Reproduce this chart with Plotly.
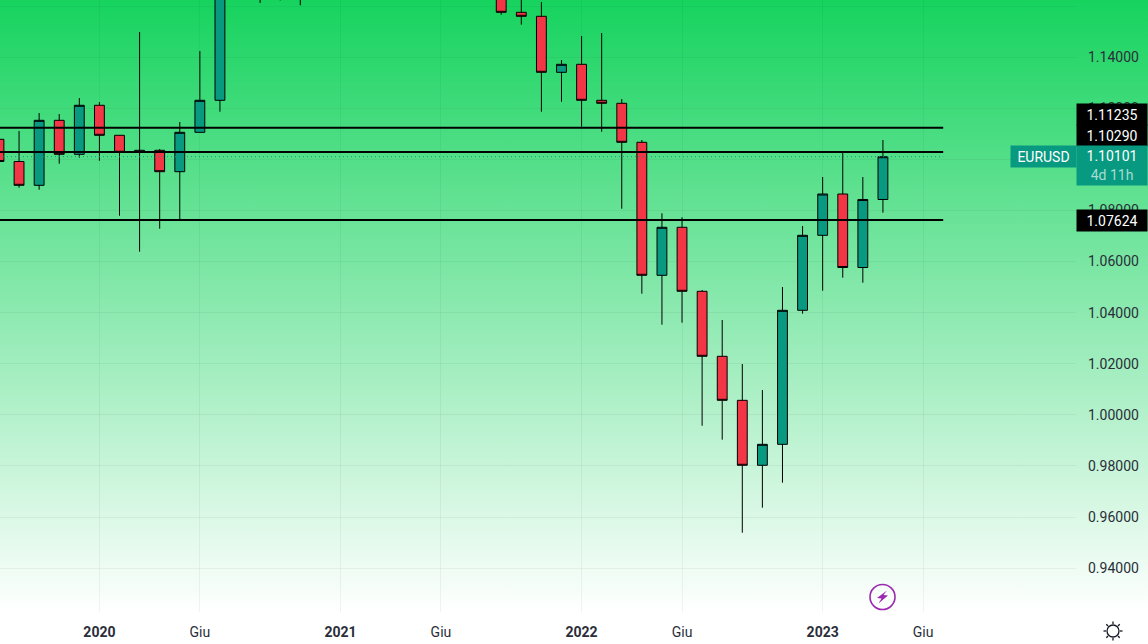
import math
import plotly.graph_objects as go

# Monthly EURUSD bars, Aug 2019 to Apr 2023
months = [f"{y}-{m:02d}" for y in range(2019, 2025) for m in range(1, 13)][7:55]

opens = [1.10783, 1.09914, 1.08982, 1.11526, 1.10196, 1.12114, 1.10939, 1.10274, 1.10352, 1.09515,
         1.11057, 1.12309, 1.17780, 1.19360, 1.17210, 1.16460, 1.19290, 1.22160, 1.21370, 1.20750,
         1.17300, 1.20200, 1.22280, 1.18580, 1.18700, 1.18080, 1.15753, 1.15597, 1.13405, 1.13718,
         1.12309, 1.12192, 1.10665, 1.05460, 1.07339, 1.04834, 1.02290, 1.00567, 0.98024, 0.98845,
         1.04090, 1.07025, 1.08642, 1.05765, 1.08427]
highs = [1.10900, 1.11108, 1.11812, 1.11773, 1.12399, 1.12243, 1.10939, 1.14982, 1.10403, 1.11460,
         1.14239, 1.19100, 1.19660, 1.20110, 1.18810, 1.19600, 1.23100, 1.23490, 1.22430, 1.21130,
         1.21500, 1.22660, 1.22540, 1.19090, 1.19080, 1.19090, 1.16920, 1.16157, 1.13887, 1.14826,
         1.14943, 1.12360, 1.10755, 1.07886, 1.07730, 1.04885, 1.03710, 1.01988, 1.00971, 1.05002,
         1.07390, 1.09307, 1.10286, 1.09307, 1.10755]
lows = [1.09800, 1.08888, 1.08810, 1.09828, 1.10063, 1.09945, 1.07793, 1.06384, 1.07284, 1.07644,
        1.11057, 1.11863, 1.17120, 1.16120, 1.16220, 1.16030, 1.19250, 1.20580, 1.19520, 1.17040,
        1.17040, 1.19860, 1.18470, 1.17520, 1.16640, 1.15660, 1.15268, 1.11863, 1.12254, 1.11276,
        1.11080, 1.08067, 1.04740, 1.03527, 1.03605, 0.99573, 0.99026, 0.95386, 0.96364, 0.97343,
        1.03957, 1.04857, 1.05366, 1.05170, 1.07910]
closes = [1.09914, 1.08982, 1.11526, 1.10196, 1.12114, 1.10939, 1.10274, 1.10352, 1.09515, 1.11057,
          1.12309, 1.17780, 1.19360, 1.17210, 1.16460, 1.19290, 1.22160, 1.21370, 1.20750, 1.17300,
          1.20200, 1.22280, 1.18580, 1.18700, 1.18080, 1.15753, 1.15597, 1.13405, 1.13718, 1.12309,
          1.12192, 1.10665, 1.05460, 1.07339, 1.04834, 1.02290, 1.00567, 0.98024, 0.98845, 1.04090,
          1.07025, 1.08642, 1.05765, 1.08427, 1.10101]
bar_months = months[:len(opens)]

# Horizontal levels and the last price
level_prices = [1.11235, 1.10290, 1.07624]
last_price = 1.10101

# Axis ticks
price_ticks = [0.94, 0.96, 0.98, 1.00, 1.02, 1.04, 1.06, 1.08, 1.10, 1.12, 1.14, 1.16]
time_ticks = ["2020-01", "2020-06", "2021-01", "2021-06", "2022-01", "2022-06", "2023-01", "2023-06", "2024-01"]
time_labels = ["<b>2020</b>", "Giu", "<b>2021</b>", "Giu", "<b>2022</b>", "Giu", "<b>2023</b>", "Giu", "<b>2024</b>"]

W, H = 1148, 644
PLOT_R, PLOT_B = 1076, 612
UP, DOWN = "#089981", "#F23645"
FONT = "Roboto"
INK = "#2a2e39"


def px(x):
    return x / W


def py(y):
    return 1 - y / H


def poly(points):
    return "M " + " L ".join(f"{px(x):.5f} {py(y):.5f}" for x, y in points) + " Z"


fig = go.Figure()

# Green wash behind the chart, fading to white at the time scale
fig.add_trace(go.Scatter(
    x=[0, 1, 1, 0], y=[0, 0, 1, 1], xaxis="x", yaxis="y",
    mode="none", fill="toself", hoverinfo="skip", showlegend=False,
    fillgradient=dict(type="vertical", start=0, stop=1,
                      colorscale=[[0, "#FFFFFF"], [1, "#16D35E"]]),
))

# Level lines sit under the candles
for level in level_prices:
    fig.add_trace(go.Scatter(
        x=[months[0], months[-1]], y=[level, level], xaxis="x2", yaxis="y2",
        mode="lines", line=dict(color="#000000", width=2),
        hoverinfo="skip", showlegend=False,
    ))
fig.add_trace(go.Scatter(
    x=[months[0], months[-1]], y=[last_price, last_price], xaxis="x2", yaxis="y2",
    mode="lines", line=dict(color=UP, width=1, dash="1px 3px"),
    hoverinfo="skip", showlegend=False,
))

fig.add_trace(go.Candlestick(
    x=bar_months, open=opens, high=highs, low=lows, close=closes,
    xaxis="x2", yaxis="y2", whiskerwidth=0, hoverinfo="skip", showlegend=False,
    increasing=dict(fillcolor=UP, line=dict(color="#000000", width=1)),
    decreasing=dict(fillcolor=DOWN, line=dict(color="#000000", width=1)),
))


def price_tag(text, price, bg, shift, height=21, width=70):
    return dict(
        text=text, x=px(1076), xref="paper", xanchor="left",
        y=price, yref="y2", yanchor="middle", yshift=shift,
        width=width, height=height, bgcolor=bg, borderpad=0, showarrow=False,
        align="center", valign="middle",
        font=dict(family=FONT, size=14, color="#FFFFFF"),
    )


annotations = [
    price_tag("1.11235", level_prices[0], "#000000", 13),
    price_tag("1.10290", level_prices[1], "#000000", 16.5),
    price_tag("1.07624", level_prices[2], "#000000", 0),
    price_tag("1.10101<br><span style='color:#A5DDD2'>4d 11h</span>", last_price, UP, -9, height=39),
    dict(text="EURUSD", x=px(1010), xref="paper", xanchor="left",
         y=last_price, yref="y2", yanchor="middle", yshift=0,
         width=65, height=21, bgcolor=UP, borderpad=0, showarrow=False,
         font=dict(family=FONT, size=14, color="#FFFFFF")),
]

# Clips the last time label at the edge of the pane
shapes = [
    dict(type="rect", xref="paper", yref="paper", layer="above",
         x0=px(1076), x1=px(1100), y0=py(644), y1=py(PLOT_B + 1),
         fillcolor="#FFFFFF", line=dict(width=0)),
    dict(type="line", xref="paper", yref="paper", layer="above",
         x0=px(1075.5), x1=px(1075.5), y0=py(146), y1=py(167),
         line=dict(color="#FFFFFF", width=1)),
    # Event marker
    dict(type="circle", xref="paper", yref="paper", layer="above",
         x0=px(870), x1=px(895), y0=py(609.5), y1=py(584.5),
         line=dict(color="#9C27B0", width=1.6), fillcolor="rgba(0,0,0,0)"),
    dict(type="path", xref="paper", yref="paper", layer="above",
         path=poly([(887, 590.5), (877, 598), (881.5, 598.5), (878.5, 603.5), (888, 595.5), (883.5, 595)]),
         fillcolor="#9C27B0", line=dict(width=0)),
    # Time scale settings icon
    dict(type="circle", xref="paper", yref="paper", layer="above",
         x0=px(1107), x1=px(1119), y0=py(637), y1=py(625),
         line=dict(color="#131722", width=1.3), fillcolor="rgba(0,0,0,0)"),
]
for k in range(8):
    a = k * math.pi / 4
    shapes.append(dict(
        type="line", xref="paper", yref="paper", layer="above",
        x0=px(1113 + 7 * math.cos(a)), x1=px(1113 + 9.5 * math.cos(a)),
        y0=py(631 + 7 * math.sin(a)), y1=py(631 + 9.5 * math.sin(a)),
        line=dict(color="#131722", width=1.3),
    ))

GRID = "rgba(42,46,57,0.06)"
fig.update_layout(
    width=W, height=H, margin=dict(l=0, r=0, t=0, b=0),
    paper_bgcolor="#FFFFFF", plot_bgcolor="rgba(0,0,0,0)", showlegend=False,
    xaxis=dict(domain=[0, 1], range=[0, 1], visible=False, fixedrange=True),
    yaxis=dict(domain=[1 - PLOT_B / H, 1], range=[0, 1], visible=False, fixedrange=True),
    xaxis2=dict(
        domain=[0, PLOT_R / W], anchor="y2", type="category",
        categoryorder="array", categoryarray=months,
        range=[0.052, 53.61], rangeslider=dict(visible=False),
        tickmode="array", tickvals=time_ticks, ticktext=time_labels, tickangle=0,
        showgrid=True, gridcolor=GRID, gridwidth=1, zeroline=False, showline=False,
        ticks="", ticklabelstandoff=10,
        tickfont=dict(family=FONT, size=14, color=INK),
    ),
    yaxis2=dict(
        domain=[1 - PLOT_B / H, 1], anchor="x2", side="right",
        range=[0.92282, 1.16235],
        tickmode="array", tickvals=price_ticks, tickformat=".5f",
        showgrid=True, gridcolor=GRID, gridwidth=1, zeroline=False, showline=False,
        ticks="", ticklabelstandoff=11,
        tickfont=dict(family=FONT, size=14, color=INK),
    ),
    annotations=annotations, shapes=shapes,
)

fig.write_html("out.html", config=dict(displayModeBar=False))
